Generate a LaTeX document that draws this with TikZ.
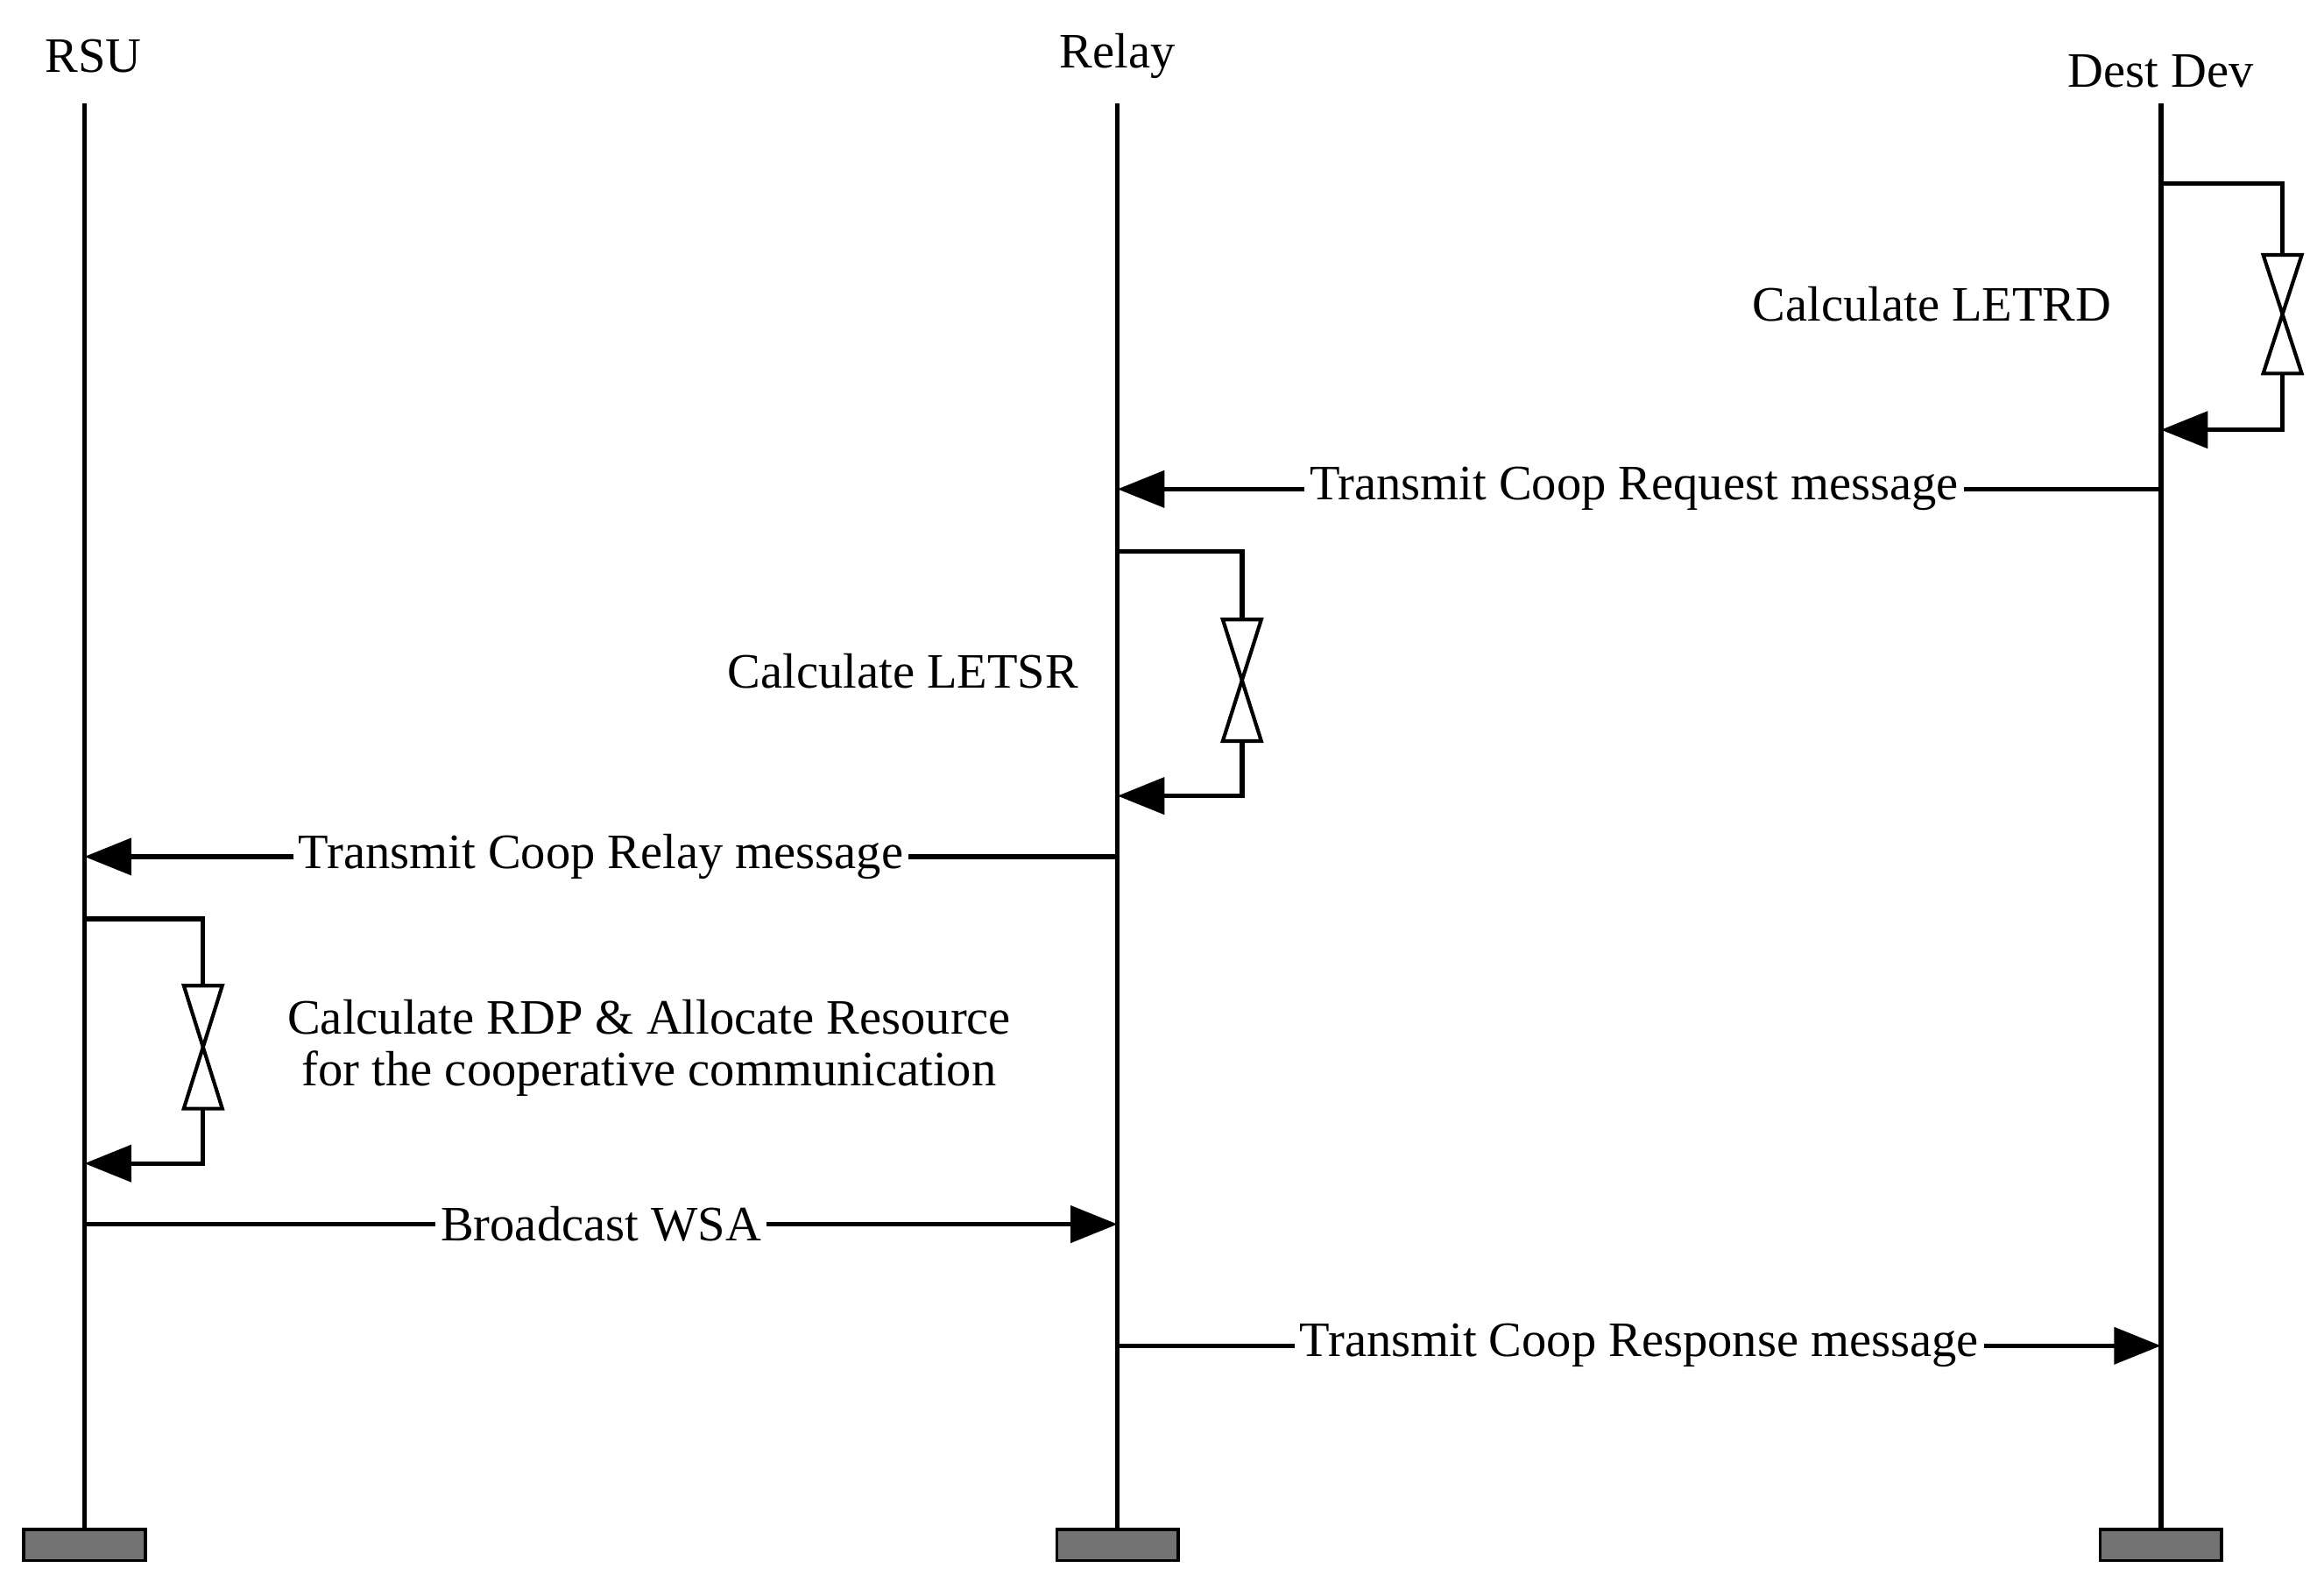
\documentclass[tikz,border=0pt]{standalone}
\usepackage{fontspec}
\setmainfont{Liberation Serif}
\usetikzlibrary{arrows.meta}
\begin{document}
\begin{tikzpicture}[x=0.01cm,y=-0.01cm,
  life/.style={line width=0.9pt},
  msg/.style={line width=0.9pt,-{Triangle[length=9pt,width=7pt]}},
  lbl/.style={fill=white,inner sep=1pt,font=\fontsize{9.5}{11}\selectfont},
  txt/.style={font=\fontsize{9.5}{11}\selectfont},
  bar/.style={fill=black!55,draw=black,line width=0.6pt},
  hg/.style={draw=black,fill=white,line width=0.7pt}]
\useasboundingbox (0,0) rectangle (1568,1072);
\newcommand{\hglass}[3]{% x, ytop, ybot
  \pgfmathsetmacro{\ym}{(#2+#3)/2}
  \draw[hg] (#1-13,#2) -- (#1+13,#2) -- (#1,\ym) -- cycle;
  \draw[hg] (#1-13,#3) -- (#1+13,#3) -- (#1,\ym) -- cycle;}
% heads
\node[txt] (rsu) at (63,38) {RSU};
\node[txt] (relay) at (754,38) {Relay};
\node[txt] (dest) at (1458,48) {Dest Dev};
% lifelines
\foreach \n/\x in {a/57,b/754,c/1458}{
  \coordinate (\n top) at (\x,70);
  \coordinate (\n bot) at (\x,1032);
  \draw[life] (\n top) -- (\n bot);
  \draw[bar] (\x-41,1032) rectangle (\x+41,1053);
}
% Dest self loop
\coordinate (d1) at (1458,124); \coordinate (d2) at (1458,290);
\draw[life] (d1) -- (1540,124) -- (1540,172);
\draw[msg] (1540,252) -- (1540,290) -- (d2);
\hglass{1540}{172}{252}
\node[txt,anchor=east] (letrd) at (1437,205) {Calculate LETRD};
% Request
\coordinate (r1) at (1458,330); \coordinate (r2) at (754,330);
\draw[msg] (r1) -- node[lbl,pos=0.505] (req) {Transmit Coop Request message} (r2);
% Relay loop
\coordinate (e1) at (754,372); \coordinate (e2) at (754,537);
\draw[life] (e1) -- (838,372) -- (838,418);
\draw[msg] (838,500) -- (838,537) -- (e2);
\hglass{838}{418}{500}
\node[txt,anchor=east] (letsr) at (740,453) {Calculate LETSR};
% Relay message
\coordinate (m1) at (754,578); \coordinate (m2) at (57,578);
\draw[msg] (m1) -- node[lbl,pos=0.5] (rel) {Transmit Coop Relay message} (m2);
% RSU loop
\coordinate (f1) at (57,620); \coordinate (f2) at (57,785);
\draw[life] (f1) -- (137,620) -- (137,665);
\draw[msg] (137,748) -- (137,785) -- (f2);
\hglass{137}{665}{748}
\node[txt,align=center] (rdp) at (438,707) {Calculate RDP \& Allocate Resource\\[-1pt]for the cooperative communication};
% Broadcast
\coordinate (w1) at (57,826); \coordinate (w2) at (754,826);
\draw[msg] (w1) -- node[lbl,pos=0.5] (wsa) {Broadcast WSA} (w2);
% Response
\coordinate (s1) at (754,908); \coordinate (s2) at (1458,908);
\draw[msg] (s1) -- node[lbl,pos=0.5] (resp) {Transmit Coop Response message} (s2);
\end{tikzpicture}
\end{document}
